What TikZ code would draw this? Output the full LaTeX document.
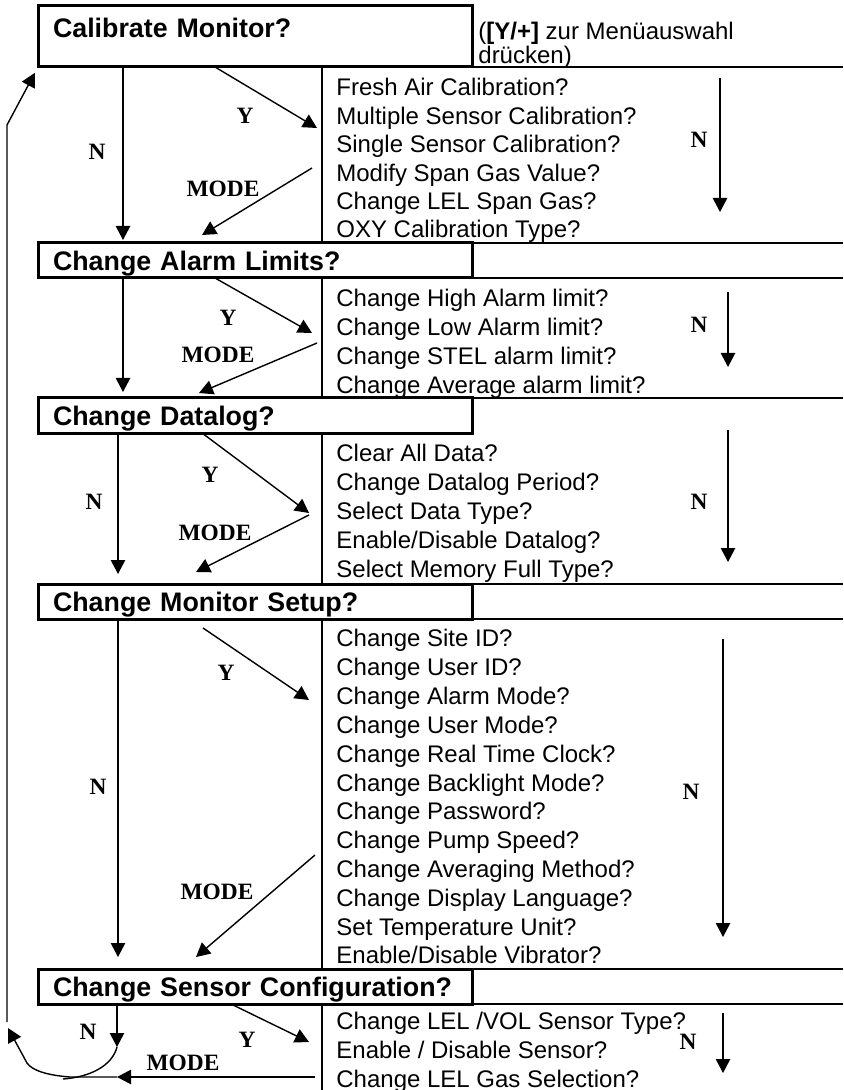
\documentclass[tikz,border=0pt]{standalone}
\usepackage{fontspec}
\setmainfont{Liberation Sans}
\newfontfamily\keyserif{Liberation Serif}
\usetikzlibrary{arrows.meta}

\tikzset{
  menubox/.style={draw, line width=1.5pt, anchor=north west, outer sep=0pt,
    inner xsep=7.5pt, inner ysep=0pt, text width=202pt, align=left,
    minimum height=17.5pt, text height=10pt, text depth=0pt,
    font=\bfseries\fontsize{13.4}{16}\selectfont},
  itemlist/.style={anchor=north west, inner sep=0pt, align=left,
    font=\fontsize{12}{14.4}\selectfont},
  hinttext/.style={anchor=base west, inner sep=0pt, font=\fontsize{12}{14.4}\selectfont},
  keylbl/.style={inner sep=0pt, font=\keyserif\bfseries\fontsize{11.7}{13}\selectfont},
  rule/.style={line width=0.7pt},
  arr/.style={line width=0.7pt, -{Triangle[length=7pt,width=7.2pt]}},
}

\begin{document}
\begin{tikzpicture}[x=0.5pt, y=-0.5pt]
  \fill[white] (0,0) rectangle (843,1090);
  \useasboundingbox (0,0) rectangle (843,1090);

  % menu boxes
  \node[menubox, minimum height=30.5pt, text depth=8.7pt] (cal) at (38,6) {Calibrate Monitor?};
  \node[menubox] (alarm) at (38,243) {Change Alarm Limits?};
  \node[menubox] (dlog) at (38,398) {Change Datalog?};
  \node[menubox] (setup) at (38,584) {Change Monitor Setup?};
  \node[menubox] (sensor) at (38,969) {Change Sensor Configuration?};

  \node[hinttext] (hint) at (478,40) {(\textbf{[Y/+]} zur Menüauswahl};
  \node[hinttext] (hintb) at (478,64) {drücken)};

  % sub menus
  \node[itemlist, font=\fontsize{12}{14.2}\selectfont] (callist) at (336,78.2)
    {Fresh Air Calibration?\\Multiple Sensor Calibration?\\Single Sensor Calibration?\\
     Modify Span Gas Value?\\Change LEL Span Gas?\\OXY Calibration Type?};
  \node[itemlist, font=\fontsize{12}{14.5}\selectfont] (alarmlist) at (336,289.2)
    {Change High Alarm limit?\\Change Low Alarm limit?\\Change STEL alarm limit?\\
     Change Average alarm limit?};
  \node[itemlist] (dloglist) at (336,444.2)
    {Clear All Data?\\Change Datalog Period?\\Select Data Type?\\
     Enable/Disable Datalog?\\Select Memory Full Type?};
  \node[itemlist] (setuplist) at (336,629.2)
    {Change Site ID?\\Change User ID?\\Change Alarm Mode?\\Change User Mode?\\
     Change Real Time Clock?\\Change Backlight Mode?\\Change Password?\\
     Change Pump Speed?\\Change Averaging Method?\\Change Display Language?\\
     Set Temperature Unit?\\Enable/Disable Vibrator?};
  \node[itemlist, font=\fontsize{12}{14.5}\selectfont] (sensorlist) at (336,1011.2)
    {Change LEL /VOL Sensor Type?\\Enable / Disable Sensor?\\Change LEL Gas Selection?};

  % table rules
  \draw[rule] (cal.south east) -- (cal.south east -| 843,0);
  \draw[rule] (alarm.north east) -- (alarm.north east -| 843,0);
  \draw[rule] (alarm.south east) -- (alarm.south east -| 843,0);
  \draw[rule] (dlog.north east) -- (dlog.north east -| 843,0);
  \draw[rule] (setup.north east) -- (setup.north east -| 843,0);
  \draw[rule] (setup.south east) -- (setup.south east -| 843,0);
  \draw[rule] (sensor.north east) -- (sensor.north east -| 843,0);
  \draw[rule] (sensor.south east) -- (sensor.south east -| 843,0);
  \coordinate (foot) at (322,1090);
  \draw[rule] (cal.south -| 322,0) -- (alarm.north -| 322,0);
  \draw[rule] (alarm.south -| 322,0) -- (dlog.north -| 322,0);
  \draw[rule] (dlog.south -| 322,0) -- (setup.north -| 322,0);
  \draw[rule] (setup.south -| 322,0) -- (sensor.north -| 322,0);
  \draw[rule] (sensor.south -| 322,0) -- (foot);

  % free ends
  \coordinate (y1) at (317,128);
  \coordinate (y2) at (312,333);
  \coordinate (y3) at (309,513);
  \coordinate (y4s) at (203,628);
  \coordinate (y4) at (309,700);
  \coordinate (y5) at (309,1042);
  \coordinate (m1a) at (312,168);  \coordinate (m1b) at (202,235);
  \coordinate (m2a) at (317,343);  \coordinate (m2b) at (199,393);
  \coordinate (m3a) at (309,515);  \coordinate (m3b) at (196,572);
  \coordinate (m4a) at (315,855);  \coordinate (m4b) at (196,957);
  \coordinate (m5a) at (315,1077); \coordinate (loopk) at (117,1077);
  \coordinate (r1a) at (720,78);   \coordinate (r1b) at (720,212);
  \coordinate (r2a) at (728,292);  \coordinate (r2b) at (728,367);
  \coordinate (r3a) at (728,430);  \coordinate (r3b) at (728,562);
  \coordinate (r4a) at (723,639);  \coordinate (r4b) at (723,937);
  \coordinate (r5a) at (723,1013); \coordinate (r5b) at (723,1073);
  \coordinate (nturn) at (117,1047);
  \coordinate (nend) at (63,1079);
  \coordinate (lup) at (8,1028);
  \coordinate (lbot) at (7,1022);
  \coordinate (lbend) at (7,125);

  % N (next menu)
  \draw[arr, shorten >=1.5pt] (cal.south -| 123,0) -- (alarm.north -| 123,0);
  \draw[arr, shorten >=3pt] (alarm.south -| 123,0) -- (dlog.north -| 123,0);
  \draw[arr, shorten >=5pt] (dlog.south -| 118,0) -- (setup.north -| 118,0);
  \draw[arr, shorten >=6pt] (setup.south -| 118,0) -- (sensor.north -| 118,0);
  \draw[arr] (sensor.south -| 117,0) -- (nturn);
  \draw[rule] (nturn) .. controls (112,1066) and (90,1077) .. (nend);

  % Y (enter)
  \draw[arr] (cal.south -| 215,0) -- (y1);
  \draw[arr] (alarm.south -| 215,0) -- (y2);
  \draw[arr] (dlog.south -| 202,0) -- (y3);
  \draw[arr] (y4s) -- (y4);
  \draw[arr] (sensor.south -| 231,0) -- (y5);

  % MODE (back)
  \draw[arr] (m1a) -- (m1b);
  \draw[arr] (m2a) -- (m2b);
  \draw[arr] (m3a) -- (m3b);
  \draw[arr] (m4a) -- (m4b);
  \draw[arr] (m5a) -- (loopk);

  % N inside sub menus
  \draw[arr] (r1a) -- (r1b);
  \draw[arr] (r2a) -- (r2b);
  \draw[arr] (r3a) -- (r3b);
  \draw[arr] (r4a) -- (r4b);
  \draw[arr] (r5a) -- (r5b);

  % loop back to the top
  \draw[arr] (loopk) -- (70,1077) .. controls (45,1075) and (32,1070) .. (27,1063) -- (lup);
  \draw[arr, shorten >=3.3pt] (lbot) -- (lbend) -- (cal.south west);

  % key labels
  \node[keylbl] (n1) at (97,152) {N};
  \node[keylbl] (yes1) at (245,116) {Y};
  \node[keylbl] (mode1) at (223,189) {MODE};
  \node[keylbl] (rn1) at (699,140) {N};
  \node[keylbl] (yes2) at (228,318) {Y};
  \node[keylbl] (mode2) at (218,355) {MODE};
  \node[keylbl] (rn2) at (699,325) {N};
  \node[keylbl] (n3) at (94,502) {N};
  \node[keylbl] (yes3) at (210,475) {Y};
  \node[keylbl] (mode3) at (215,533) {MODE};
  \node[keylbl] (rn3) at (699,502) {N};
  \node[keylbl] (n4) at (98,787) {N};
  \node[keylbl] (yes4) at (226,673) {Y};
  \node[keylbl] (mode4) at (217,892) {MODE};
  \node[keylbl] (rn4) at (691,792) {N};
  \node[keylbl] (n5) at (88,1032) {N};
  \node[keylbl] (yes5) at (247,1040) {Y};
  \node[keylbl] (mode5) at (183,1063) {MODE};
  \node[keylbl] (rn5) at (688,1042) {N};
\end{tikzpicture}
\end{document}
